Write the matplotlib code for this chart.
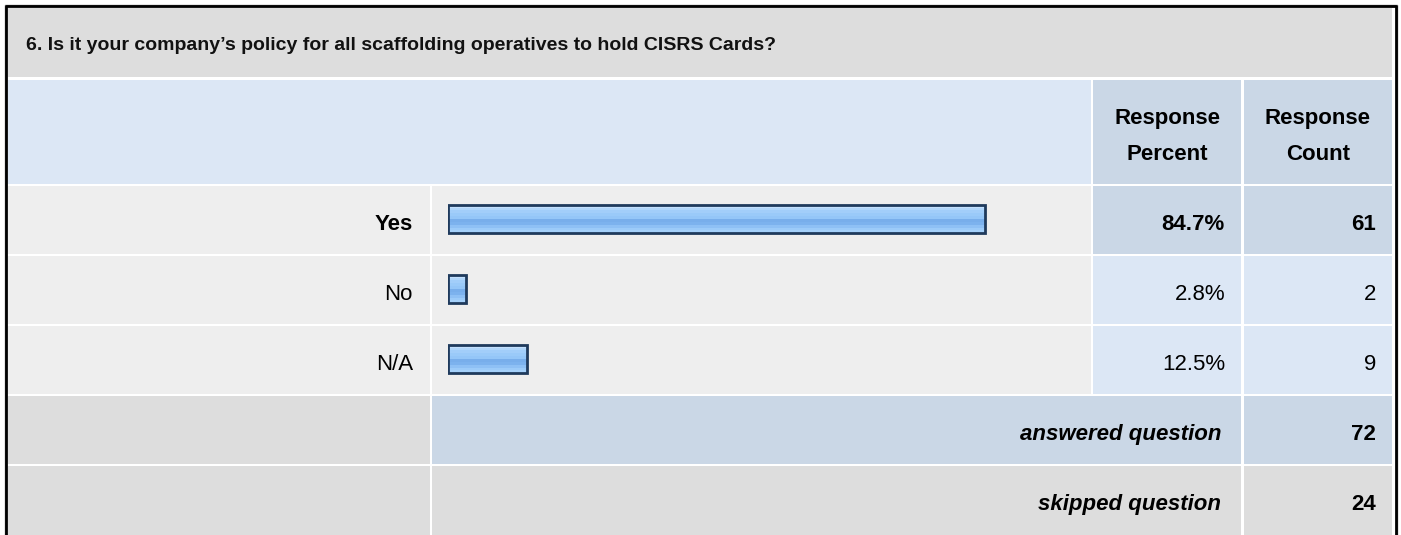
import matplotlib.pyplot as plt
from matplotlib.patches import Rectangle

plt.rcParams['font.family'] = ['Liberation Sans', 'DejaVu Sans']

title = "6. Is it your company\u2019s policy for all scaffolding operatives to hold CISRS Cards?"
answers = ['Yes', 'No', 'N/A']
percents = [84.7, 2.8, 12.5]
counts = [61, 2, 9]
answered = 72
skipped = 24

# colours
grey = '#dddddd'
light = '#eeeeee'
blue_lt = '#dce7f5'
blue_dk = '#cad7e6'
navy = '#1f3a5c'
stripes = ['#c4e0fd', '#b0d6fb', '#a2cefa', '#9acaf9', '#94c6f8', '#78aeeb', '#7cb2ee',
           '#8ec0f5', '#9ccbf9', '#a4d0fa']
fs = 16

W, H = 1401, 535
fig = plt.figure(figsize=(W / 100, H / 100), dpi=100)
fig.patch.set_facecolor('white')
bg = fig.add_axes([0, 0, 1, 1])
bg.set_xlim(0, W)
bg.set_ylim(H, 0)
bg.axis('off')


def cell(x0, x1, y0, y1, color):
    bg.add_patch(Rectangle((x0, y0), x1 - x0, y1 - y0, facecolor=color, edgecolor='none'))


# column / row edges (pixels)
c_lab = (8, 430)
c_bar = (432, 1091)
c_pct = (1093, 1241)
c_cnt = (1244, 1392)
row_top = 186
row_h = 70

# title and header
cell(8, 1392, 8, 77, grey)
cell(8, 1091, 80, 184, blue_lt)
cell(*c_pct, 80, 184, blue_dk)
cell(*c_cnt, 80, 184, blue_dk)
bg.text(26, 50, title, fontsize=14, fontweight='bold', color='#111111', va='baseline')
for cx, word in [(1167, 'Percent'), (1318, 'Count')]:
    bg.text(cx, 124, 'Response', fontsize=fs, fontweight='bold', ha='center', va='baseline')
    bg.text(cx, 160, word, fontsize=fs, fontweight='bold', ha='center', va='baseline')

# answer rows
best = max(range(len(counts)), key=lambda k: counts[k])
for i, (lab, p, c) in enumerate(zip(answers, percents, counts)):
    y0 = row_top + i * row_h
    y1 = y0 + row_h - 2.5
    hi = i == best
    cell(*c_lab, y0, y1, light)
    cell(*c_bar, y0, y1, light)
    cell(*c_pct, y0, y1, blue_dk if hi else blue_lt)
    cell(*c_cnt, y0, y1, blue_dk if hi else blue_lt)
    wt = 'bold' if hi else 'normal'
    yb = y0 + 44
    bg.text(413, yb, lab, fontsize=fs, fontweight=wt, ha='right', va='baseline')
    bg.text(1225, yb, f'{p:.1f}%', fontsize=fs, fontweight=wt, ha='right', va='baseline')
    bg.text(1376, yb, str(c), fontsize=fs, fontweight=wt, ha='right', va='baseline')

# summary rows
y0 = row_top + 3 * row_h
cell(*c_lab, y0, y0 + row_h - 2.5, grey)
cell(c_bar[0], c_pct[1], y0, y0 + row_h - 2.5, blue_dk)
cell(*c_cnt, y0, y0 + row_h - 2.5, blue_dk)
bg.text(1221, y0 + 44, 'answered question', fontsize=fs, fontweight='bold', style='italic',
        ha='right', va='baseline')
bg.text(1376, y0 + 44, str(answered), fontsize=fs, fontweight='bold', ha='right', va='baseline')
y0 = row_top + 4 * row_h
cell(*c_lab, y0, H + 5, grey)
cell(c_bar[0], c_pct[1], y0, H + 5, grey)
cell(*c_cnt, y0, H + 5, grey)
bg.text(1221, y0 + 44, 'skipped question', fontsize=fs, fontweight='bold', style='italic',
        ha='right', va='baseline')
bg.text(1376, y0 + 44, str(skipped), fontsize=fs, fontweight='bold', ha='right', va='baseline')

# outer frame
bg.plot([4.5, 4.5, 1396.5, 1396.5], [H + 5, 4.5, 4.5, H + 5], color='#777777', lw=1.0)
bg.plot([6, 6, 1395.5, 1395.5], [H + 5, 6, 6, H + 5], color='black', lw=2.0)

# bars
bx = fig.add_axes([448 / W, 1 - (row_top - 2 + 3 * row_h) / H, 634 / W, 3 * row_h / H])
bx.set_xlim(0, 100)
bx.set_ylim(2.5, -0.5)
bx.axis('off')
bh = 0.41
n = len(stripes)
for i, p in enumerate(percents):
    for k, col in enumerate(stripes):
        bx.barh(i - bh / 2 + (k + 0.5) * bh / n, p, height=bh / n, left=0, color=col,
                edgecolor='none')
    bx.barh(i, p, height=bh, fill=False, edgecolor=navy, linewidth=2.0)

fig.savefig('out.png', dpi=100, facecolor='white')
